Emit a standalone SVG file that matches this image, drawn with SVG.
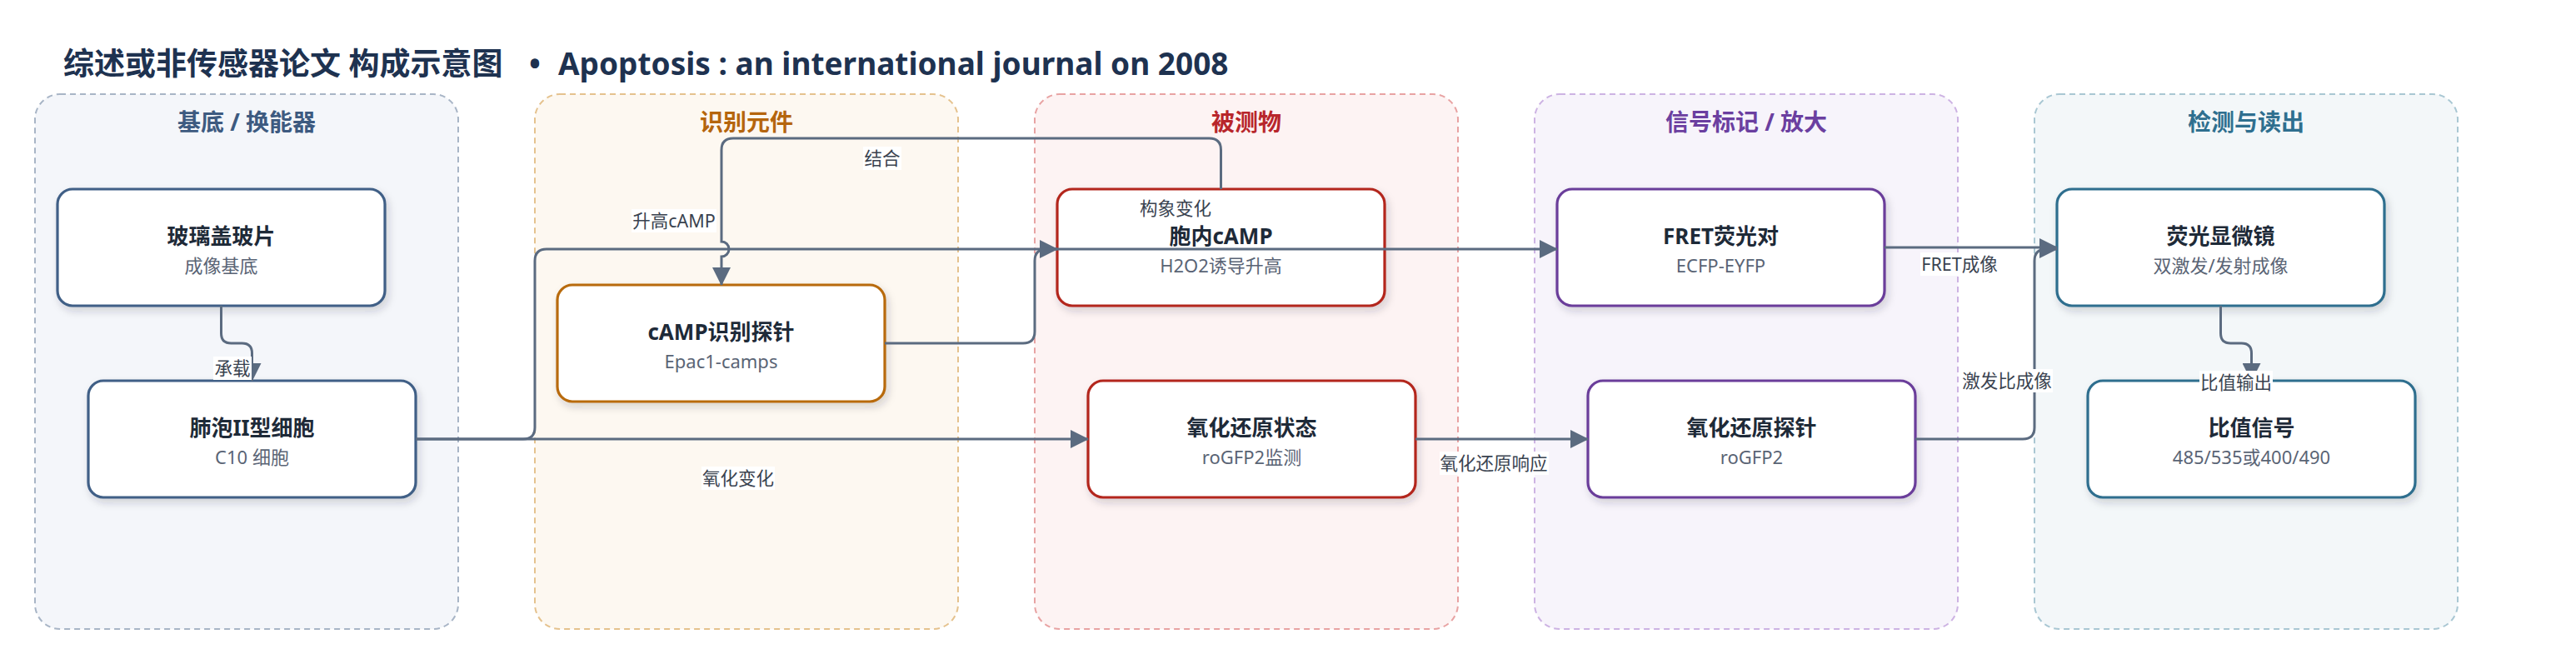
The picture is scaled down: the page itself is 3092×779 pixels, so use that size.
<svg xmlns="http://www.w3.org/2000/svg" width="3092" height="779" viewBox="0 0 3092 779">
<defs>
<filter id="sh" x="-10%" y="-10%" width="125%" height="135%">
<feDropShadow dx="3" dy="5" stdDeviation="5" flood-color="#1e2a38" flood-opacity="0.18"/>
</filter>
<marker id="arr" markerUnits="userSpaceOnUse" markerWidth="22" markerHeight="22" refX="21" refY="11" orient="auto">
<path d="M0,0 L22,11 L0,22 z" fill="#5b6b80"/>
</marker>
</defs>
<style>
text{font-family:"Noto Sans","Noto Sans CJK SC",sans-serif}
.gbox{stroke-width:2;stroke-dasharray:7 5}
.gt{font-weight:700;font-size:28px;text-anchor:middle}
.node rect{fill:#ffffff;stroke-width:3.2;filter:url(#sh)}
.nt{font-weight:700;font-size:26px;fill:#1e2a38;text-anchor:middle}
.ns{font-size:22px;fill:#5a6475;text-anchor:middle}
.edge{fill:none;stroke:#5b6b80;stroke-width:3}
.arrow{marker-end:url(#arr)}
.lbg{fill:#ffffff}
.lbl{font-size:21.5px;fill:#3a4350;text-anchor:middle}
</style>
<rect width="3092" height="779" fill="#ffffff"/>
<text font-size="37" font-weight="700" fill="#1e3250" y="90"><tspan x="76">综述或非传感器论文 构成示意图</tspan><tspan x="642" text-anchor="middle">•</tspan><tspan x="670">Apoptosis : an international journal on 2008</tspan></text>

<g id="group-substrate">
<rect class="gbox" x="42" y="113" width="508" height="642" rx="30" fill="#f4f6fa" stroke="#a8b5c6"/>
<text class="gt" x="296" y="157" fill="#3d5a80">基底 / 换能器</text>
</g>
<g id="group-recognition">
<rect class="gbox" x="642" y="113" width="508" height="642" rx="30" fill="#fdf8f1" stroke="#e5c28e"/>
<text class="gt" x="896" y="157" fill="#b5650d">识别元件</text>
</g>
<g id="group-analyte">
<rect class="gbox" x="1242" y="113" width="508" height="642" rx="30" fill="#fdf3f3" stroke="#e8a3a3"/>
<text class="gt" x="1496" y="157" fill="#b8262b">被测物</text>
</g>
<g id="group-signal">
<rect class="gbox" x="1842" y="113" width="508" height="642" rx="30" fill="#f7f4fb" stroke="#cdb3e3"/>
<text class="gt" x="2096" y="157" fill="#6b3fa0">信号标记 / 放大</text>
</g>
<g id="group-readout">
<rect class="gbox" x="2442" y="113" width="508" height="642" rx="30" fill="#f3f7f9" stroke="#a9c7d3"/>
<text class="gt" x="2696" y="157" fill="#2f6f8f">检测与读出</text>
</g>

<g id="node-coverslip" class="node">
<rect x="69" y="227" width="393" height="140" rx="18" stroke="#3f5f86"/>
<text class="nt" x="265.5" y="293">玻璃盖玻片</text>
<text class="ns" x="265.5" y="327">成像基底</text>
</g>
<g id="node-at2cell" class="node">
<rect x="106" y="457" width="393" height="140" rx="18" stroke="#3f5f86"/>
<text class="nt" x="302.5" y="523">肺泡II型细胞</text>
<text class="ns" x="302.5" y="557">C10 细胞</text>
</g>
<g id="node-camp-probe" class="node">
<rect x="669" y="342" width="393" height="140" rx="18" stroke="#b86b0b"/>
<text class="nt" x="865.5" y="408">cAMP识别探针</text>
<text class="ns" x="865.5" y="442">Epac1-camps</text>
</g>
<g id="node-camp" class="node">
<rect x="1269" y="227" width="393" height="140" rx="18" stroke="#b3261e"/>
<text class="nt" x="1465.5" y="293">胞内cAMP</text>
<text class="ns" x="1465.5" y="327">H2O2诱导升高</text>
</g>
<g id="node-redox-state" class="node">
<rect x="1306" y="457" width="393" height="140" rx="18" stroke="#b3261e"/>
<text class="nt" x="1502.5" y="523">氧化还原状态</text>
<text class="ns" x="1502.5" y="557">roGFP2监测</text>
</g>
<g id="node-fret" class="node">
<rect x="1869" y="227" width="393" height="140" rx="18" stroke="#6a3d9a"/>
<text class="nt" x="2065.5" y="293">FRET荧光对</text>
<text class="ns" x="2065.5" y="327">ECFP-EYFP</text>
</g>
<g id="node-redox-probe" class="node">
<rect x="1906" y="457" width="393" height="140" rx="18" stroke="#6a3d9a"/>
<text class="nt" x="2102.5" y="523">氧化还原探针</text>
<text class="ns" x="2102.5" y="557">roGFP2</text>
</g>
<g id="node-microscope" class="node">
<rect x="2469" y="227" width="393" height="140" rx="18" stroke="#2e6e8e"/>
<text class="nt" x="2665.5" y="293">荧光显微镜</text>
<text class="ns" x="2665.5" y="327">双激发/发射成像</text>
</g>
<g id="node-ratio" class="node">
<rect x="2506" y="457" width="393" height="140" rx="18" stroke="#2e6e8e"/>
<text class="nt" x="2702.5" y="523">比值信号</text>
<text class="ns" x="2702.5" y="557">485/535或400/490</text>
</g>

<g id="connectors">
<path class="edge arrow" d="M265.5 367 V400 Q265.5 412 277.5 412 H290.5 Q302.5 412 302.5 424 V457"/>
<path class="edge arrow" d="M499 527 H628 Q642 527 642 513 V313 Q642 299 656 299 H1269"/>
<path class="edge arrow" d="M499 527 H1306"/>
<path class="edge arrow" d="M1465.5 227 V180 Q1465.5 166 1451.5 166 H880 Q866 166 866 180 V290 A9 9 0 0 1 866 308 V342"/>
<path class="edge arrow" d="M1062 412 H1228 Q1242 412 1242 398 V313 Q1242 299 1256 299 H1869"/>
<path class="edge arrow" d="M1699 527 H1906"/>
<path class="edge arrow" d="M2262 297 H2469"/>
<path class="edge arrow" d="M2299 527 H2428 Q2442 527 2442 513 V313 Q2442 299 2456 299 H2469"/>
<path class="edge arrow" d="M2665.5 367 V400 Q2665.5 412 2677.5 412 H2690.5 Q2702.5 412 2702.5 424 V457"/>
</g>

<g id="edge-labels">
<rect class="lbg" x="256" y="428" width="46" height="28"/>
<text class="lbl" x="279" y="450">承载</text>
<rect class="lbg" x="758" y="251" width="102" height="28"/>
<text class="lbl" x="809" y="273">升高cAMP</text>
<rect class="lbg" x="1036" y="176" width="46" height="28"/>
<text class="lbl" x="1059" y="198">结合</text>
<rect class="lbg" x="1367" y="236" width="88" height="28"/>
<text class="lbl" x="1411" y="258">构象变化</text>
<rect class="lbg" x="842" y="560" width="88" height="28"/>
<text class="lbl" x="886" y="582">氧化变化</text>
<rect class="lbg" x="1728" y="542" width="131" height="28"/>
<text class="lbl" x="1793" y="564">氧化还原响应</text>
<rect class="lbg" x="2305" y="303" width="95" height="28"/>
<text class="lbl" x="2352" y="325">FRET成像</text>
<rect class="lbg" x="2354" y="443" width="110" height="28"/>
<text class="lbl" x="2409" y="465">激发比成像</text>
<rect class="lbg" x="2640" y="445" width="88" height="28"/>
<text class="lbl" x="2684" y="467">比值输出</text>
</g>
</svg>
